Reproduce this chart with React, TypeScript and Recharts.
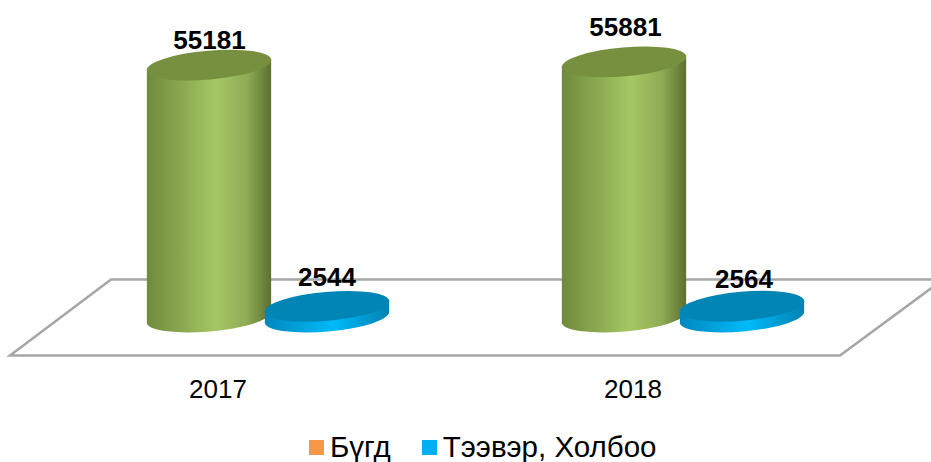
import { BarChart, Bar, XAxis, YAxis, LabelList, Legend } from 'recharts'

const years = ['2017', '2018']
const totalValues = [55181, 55881]
const transportValues = [2544, 2564]
const seriesNames = ['Бүгд', 'Тээвэр, Холбоо']
const legendColors = ['#F79646', '#00B0F0']

const rows = years.map((year, i) => ({
  year,
  total: totalValues[i],
  transport: transportValues[i],
}))

const WIDTH = 931
const HEIGHT = 462
const FONT = '"Liberation Sans", Arial, sans-serif'
const TILT = 5
const RY = 14.5

// label nudges per year, the original has them placed by hand
const totalNudge = [{ dx: 0.5, dy: -25 }, { dx: 1.5, dy: -35 }]
const transportNudge = [{ dx: 0, dy: -29 }, { dx: 2, dy: -27 }]

function cylinder(gradient: string, topColor: string) {
  return function CylinderBar(props: any) {
    const { x, y, width, height } = props
    const rx = width / 2
    const cx = x + rx
    const rad = (TILT * Math.PI) / 180
    const dx = rx * Math.cos(rad) * 0.998
    const dy = rx * Math.sin(rad)
    const base = y + height
    const body = [
      `M ${cx - dx} ${y + dy}`,
      `L ${cx - dx} ${base + dy}`,
      `A ${rx} ${RY} ${-TILT} 0 0 ${cx + dx} ${base - dy}`,
      `L ${cx + dx} ${y - dy}`,
      'Z',
    ].join(' ')
    return (
      <g>
        <path d={body} fill={`url(#${gradient})`} />
        <ellipse cx={cx} cy={y} rx={rx} ry={RY} fill={topColor} transform={`rotate(${-TILT} ${cx} ${y})`} />
      </g>
    )
  }
}

function valueLabel(nudges: { dx: number; dy: number }[]) {
  return function ValueLabel(props: any) {
    const { x, y, width, value, index } = props
    const n = nudges[index]
    return (
      <text
        x={x + width / 2 + n.dx}
        y={y + n.dy}
        textAnchor="middle"
        dominantBaseline="central"
        fontFamily={FONT}
        fontSize={26}
        fontWeight="bold"
        fill="#000"
      >
        {value}
      </text>
    )
  }
}

function YearTick({ x, y, payload }: any) {
  return (
    <text x={x - 50} y={y - 5} textAnchor="middle" dominantBaseline="central" fontFamily={FONT} fontSize={26} fill="#000">
      {payload.value}
    </text>
  )
}

function ChartLegend() {
  return (
    <div style={{ display: 'flex', paddingLeft: 248.5, paddingTop: 4, fontFamily: FONT, fontSize: 29.5, color: '#000', lineHeight: '30px' }}>
      {seriesNames.map((name, i) => (
        <div key={name} style={{ display: 'flex', alignItems: 'center', marginRight: 31 }}>
          <span style={{ width: 15, height: 15, background: legendColors[i], marginRight: 6, display: 'inline-block' }} />
          {name}
        </div>
      ))}
    </div>
  )
}

export default function App() {
  return (
    <div style={{ position: 'absolute', left: 0, top: 0, width: WIDTH, height: HEIGHT, background: '#fff', overflow: 'hidden' }}>
      {/* floor of the 3D plot */}
      <svg width={WIDTH} height={HEIGHT} style={{ position: 'absolute', left: 0, top: 0 }}>
        <polygon points="10,355.5 840,355.5 943,279.5 111,279.5" fill="none" stroke="#A6A6A6" strokeWidth={2.5} />
      </svg>
      <div style={{ position: 'absolute', left: 0, top: 0 }}>
        <BarChart
          width={WIDTH}
          height={HEIGHT}
          data={rows}
          barSize={125}
          barGap={-7}
          margin={{ top: 43, right: 40.5, bottom: 0, left: 60.5 }}
        >
          <defs>
            <linearGradient id="greenBody" x1="0" y1="0" x2="1" y2="0">
              <stop offset="0" stopColor="#6F8A3C" />
              <stop offset="0.55" stopColor="#A5C763" />
              <stop offset="0.8" stopColor="#8FAD55" />
              <stop offset="1" stopColor="#5D7030" />
            </linearGradient>
            <linearGradient id="blueBody" x1="0" y1="0" x2="1" y2="0">
              <stop offset="0" stopColor="#0088BC" />
              <stop offset="0.55" stopColor="#00BAFA" />
              <stop offset="1" stopColor="#0082B2" />
            </linearGradient>
          </defs>
          <XAxis dataKey="year" axisLine={false} tickLine={false} height={110} tick={<YearTick />} tickMargin={70} interval={0} />
          <YAxis hide domain={[0, 60000]} />
          <Legend content={<ChartLegend />} verticalAlign="bottom" height={34} />
          <Bar dataKey="total" name={seriesNames[0]} fill={legendColors[0]} shape={cylinder('greenBody', '#76903F')} isAnimationActive={false}>
            <LabelList dataKey="total" content={valueLabel(totalNudge)} />
          </Bar>
          <Bar dataKey="transport" name={seriesNames[1]} fill={legendColors[1]} shape={cylinder('blueBody', '#0085B5')} isAnimationActive={false}>
            <LabelList dataKey="transport" content={valueLabel(transportNudge)} />
          </Bar>
        </BarChart>
      </div>
    </div>
  )
}
